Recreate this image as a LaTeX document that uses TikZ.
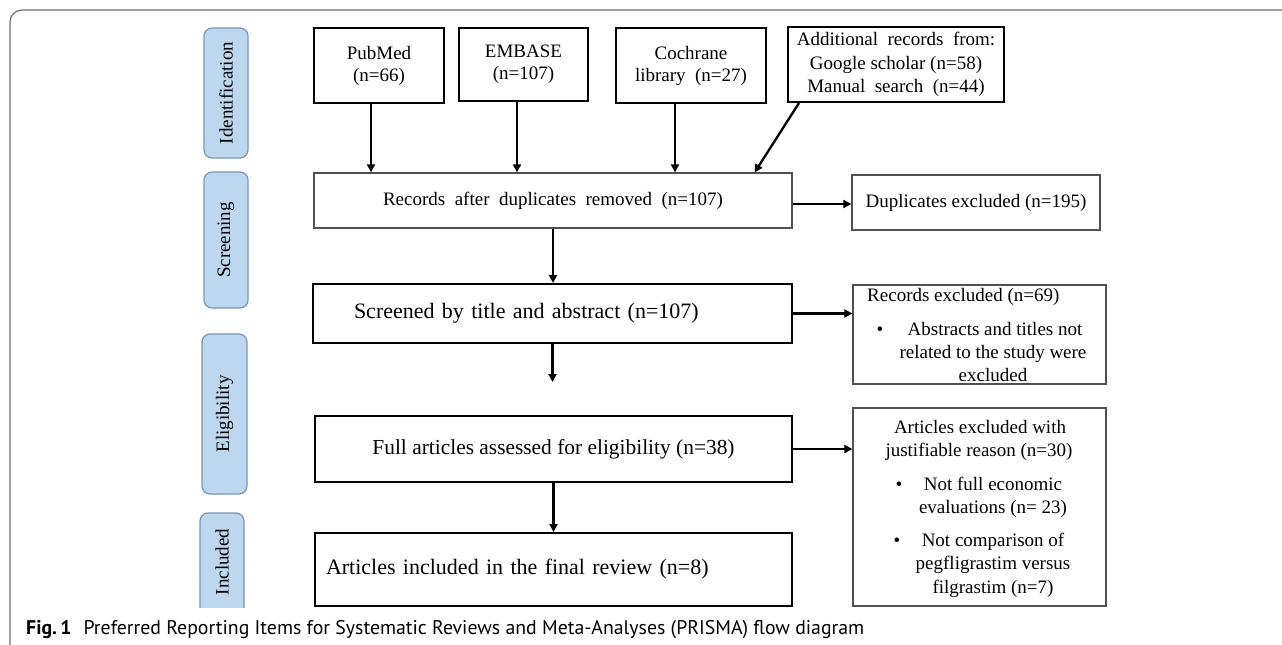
\documentclass[tikz,border=0pt]{standalone}
\usepackage{fontspec}
\setmainfont{Liberation Serif}
\newfontfamily\capfont{PT Sans}
\usetikzlibrary{arrows.meta}
\definecolor{phasefill}{HTML}{BDD7EE}
\definecolor{phaseline}{HTML}{7896B4}
\definecolor{framegray}{HTML}{6E6E6E}
\definecolor{thingray}{HTML}{505050}
\begin{document}
\begin{tikzpicture}[x=1pt,y=-1pt,
  srcbox/.style={draw=black, line width=2pt, align=center, inner sep=0pt,
    font=\fontsize{19}{22}\selectfont},
  thinbox/.style={draw=thingray, line width=1.3pt, align=center, inner sep=0pt,
    font=\fontsize{19}{22}\selectfont},
  thickbox/.style={draw=black, line width=2pt, inner sep=0pt},
  phase/.style={draw=phaseline, fill=phasefill, rounded corners=8pt, line width=1.2pt,
    rotate=90, inner sep=0pt, font=\fontsize{19}{22}\selectfont},
  phasetext/.style={rotate=90, inner sep=0pt, font=\fontsize{19}{22}\selectfont},
  txt/.style={inner sep=0pt, font=\fontsize{19}{22}\selectfont},
  arr/.style={-{Triangle[length=8pt,width=8pt]}, line width=2.3pt}]
\useasboundingbox (0,0) rectangle (1282,645);
\fill[white] (0,0) rectangle (1282,645);
% outer frame
\draw[framegray, line width=1.2pt, rounded corners=12pt] (10,660) -- (10,10) -- (1300,10);

% phase labels
\node[phase, minimum width=130pt, minimum height=44pt] (pid) at (226,93) {Identification};
\node[phase, minimum width=136pt, minimum height=44pt] (psc) at (226,240) {Screening};
\node[phase, minimum width=160pt, minimum height=45pt] (pel) at (224.5,414) {Eligibility};
\begin{scope}
  \clip (0,0) rectangle (1282,607);
  \node[phase, minimum width=120pt, minimum height=44pt] (pin) at (222,573) {};
\end{scope}
\node[phasetext] (pint) at (222,562) {Included};

% sources
\node[srcbox, minimum width=130pt, minimum height=75pt] (pub) at (379,65.5) {PubMed\\(n=66)};
\node[srcbox, minimum width=129pt, minimum height=73pt] (emb) at (523.5,64.5) {EMBASE\\(n=107)};
\node[srcbox, minimum width=150pt, minimum height=75pt] (coch) at (691,65.5) {Cochrane\\library\ \ (n=27)};
\node[srcbox, minimum width=216pt, minimum height=75pt, font=\fontsize{19}{23.5}\selectfont] (add) at (896,64.5)
  {Additional\ \ records\ \ from:\\Google scholar (n=58)\\Manual\ \ search\ \ (n=44)};

% main flow
\node[thinbox, minimum width=478pt, minimum height=55pt] (rec) at (553,200.5)
  {Records\ \ after\ \ duplicates\ \ removed\ \ (n=107)};
\node[thinbox, minimum width=248pt, minimum height=55pt] (dup) at (976,202.5)
  {Duplicates excluded (n=195)};
\node[thickbox, minimum width=479pt, minimum height=59pt, text width=397pt, inner xsep=41pt,
  align=left, font=\fontsize{22}{26}\selectfont] (scr) at (552.5,313.5)
  {Screened by title and abstract (n=107)};
\node[thinbox, minimum width=253pt, minimum height=99pt] (rex) at (979.5,334.5) {};
\node[thickbox, minimum width=477pt, minimum height=66pt, align=center,
  font=\fontsize{21.4}{26}\selectfont] (full) at (553.5,449)
  {Full articles assessed for eligibility (n=38)};
\node[thickbox, minimum width=477pt, minimum height=73pt, text width=455pt, inner xsep=11pt,
  align=left, font=\fontsize{22}{26}\selectfont] (inc) at (553.5,569.5)
  {Articles included in the final review (n=8)};
\node[thinbox, minimum width=253pt, minimum height=198pt] (aex) at (979.5,507) {};

% text in records excluded
\node[txt, anchor=base west] (rext) at (867,301) {Records excluded (n=69)};
\node[txt, anchor=base] (rexb) at (880,335) {\textbullet};
\node[txt, anchor=base] (rex1) at (995,335) {Abstracts and titles not};
\node[txt, anchor=base] (rex2) at (993,358) {related to the study were};
\node[txt, anchor=base] (rex3) at (993,381) {excluded};

% text in articles excluded
\node[txt, anchor=base] (aext1) at (980,433) {Articles excluded with};
\node[txt, anchor=base] (aext2) at (979,456) {justifiable reason (n=30)};
\node[txt, anchor=base] (aexb1) at (899,490) {\textbullet};
\node[txt, anchor=base] (aex11) at (993,490) {Not full economic};
\node[txt, anchor=base] (aex12) at (993,513) {evaluations (n= 23)};
\node[txt, anchor=base] (aexb2) at (897,546) {\textbullet};
\node[txt, anchor=base] (aex21) at (993,546) {Not comparison of};
\node[txt, anchor=base] (aex22) at (993,569) {pegfligrastim versus};
\node[txt, anchor=base] (aex23) at (993,593) {filgrastim (n=7)};

% connectors
\draw[arr] ([xshift=-8pt]pub.south) -- ([xshift=-8pt]pub.south |- rec.north);
\draw[arr] ([xshift=-6.5pt]emb.south) -- ([xshift=-6.5pt]emb.south |- rec.north);
\draw[arr] ([xshift=-16pt]coch.south) -- ([xshift=-16pt]coch.south |- rec.north);
\draw[arr] ([xshift=12pt]add.south west) -- ([xshift=-38pt]rec.north east);
\draw[arr] ([yshift=-3.5pt]rec.east) -- ([yshift=-3.5pt]rec.east -| dup.west);
\draw[arr] (rec.south) -- (rec.south |- scr.north);
\draw[arr] (scr.east) -- (scr.east -| rex.west);
\coordinate (gap) at (552.5,382);
\draw[arr] (scr.south) -- (gap);
\draw[arr] (full.east) -- (full.east -| aex.west);
\draw[arr] (full.south) -- (full.south |- inc.north);

% caption
\node[inner sep=0pt, anchor=base west, font=\capfont\fontsize{19.8}{22}\selectfont] (cap) at (26,634)
  {\textbf{Fig.\,1}\hspace{12pt}Preferred Reporting Items for Systematic Reviews and Meta-Analyses (PRISMA) flow diagram};
\end{tikzpicture}
\end{document}
